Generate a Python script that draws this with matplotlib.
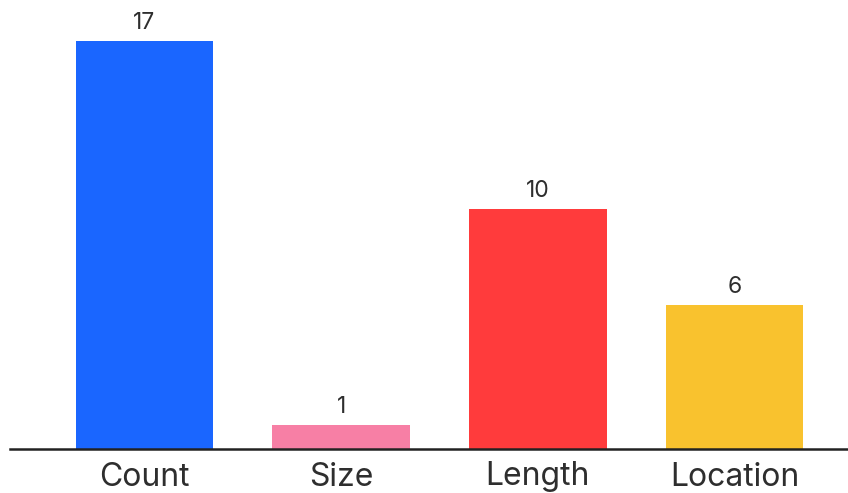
import matplotlib
matplotlib.use("Agg")
import matplotlib.pyplot as plt

categories = ["Count", "Size", "Length", "Location"]
values = [17, 1, 10, 6]
colors = ["#1a66ff", "#f77fa5", "#ff3b3c", "#f9c22e"]

plt.rcParams['font.family'] = ['Inter', 'DejaVu Sans']

fig = plt.figure(figsize=(8.48, 4.93), dpi=100)
ax = fig.add_axes([10/848, 44/493, 838/848, 449/493])
x = list(range(len(categories)))
bars = ax.bar(x, values, width=0.7, color=colors)
for xi, v in zip(x, values):
    ax.annotate(str(v), (xi, v), xytext=(0, 5), textcoords="offset points",
                ha="center", va="bottom", fontsize=16.5, color="#2e2e2e")
ax.set_xlim(-0.684, 3.577)
ax.set_ylim(0, 18.71)
ax.set_xticks(x)
ax.set_xticklabels(categories, fontsize=23, color="#2e2e2e")
ax.tick_params(axis="x", length=0, pad=9)
ax.set_yticks([])
for s in ["top", "right", "left"]:
    ax.spines[s].set_visible(False)
ax.spines["bottom"].set_linewidth(1.8)
ax.spines["bottom"].set_color("#222222")
fig.savefig("out.png", dpi=100)
